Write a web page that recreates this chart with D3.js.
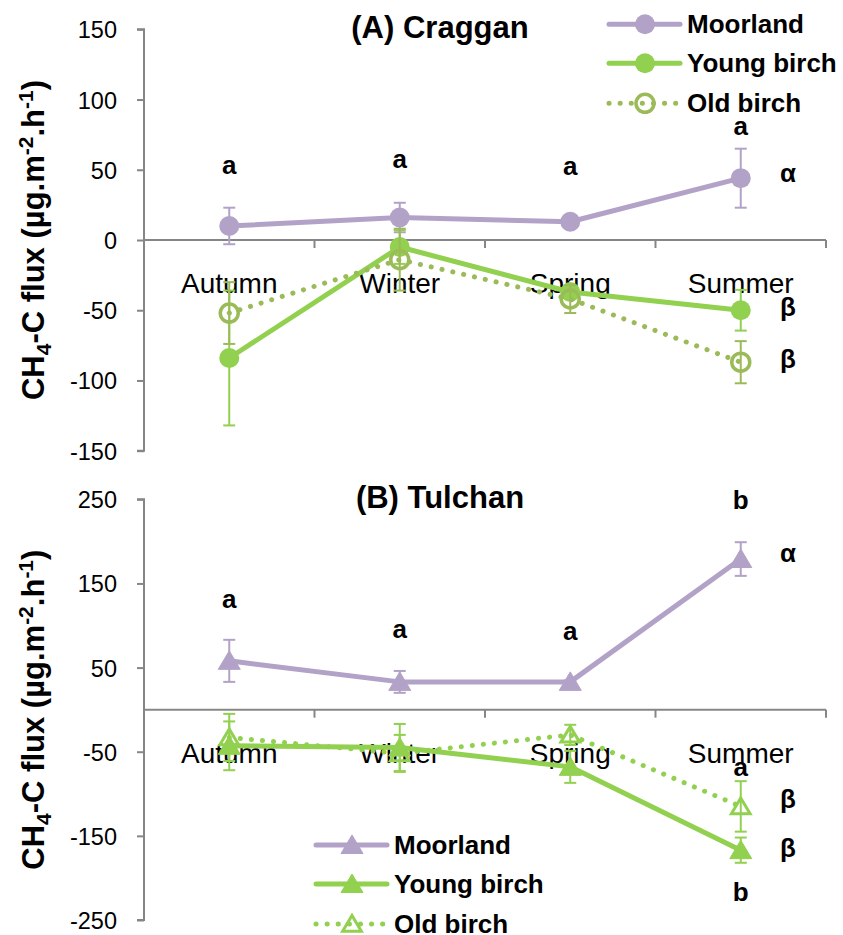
<!DOCTYPE html>
<html>
<head>
<meta charset="utf-8">
<script src="https://cdn.jsdelivr.net/npm/d3@7"></script>
<style>
  html, body { margin: 0; padding: 0; background: #fff; }
  svg { display: block; font-family: "Liberation Sans", Arial, sans-serif; }
</style>
</head>
<body>
<svg id="chart" width="843" height="935"></svg>
<script>
// Seasons on the x axis
const seasons = ["Autumn", "Winter", "Spring", "Summer"];

// (A) Craggan — CH4-C flux means and standard errors
const cragganMoorland      = [10, 16, 13, 44];
const cragganMoorlandErr   = [13, 10.5, 2, 21];
const cragganYoungBirch    = [-84, -5, -37, -50];
const cragganYoungBirchErr = [48, 12, 4, 14.5];
const cragganOldBirch      = [-52, -14, -42, -87];
const cragganOldBirchErr   = [22, 22, 10, 15];

// (B) Tulchan
const tulchanMoorland      = [58, 33, 33, 179];
const tulchanMoorlandErr   = [25, 13, 2, 20];
const tulchanYoungBirch    = [-43, -45, -68, -167];
const tulchanYoungBirchErr = [29, 28, 19, 15];
const tulchanOldBirch      = [-33, -52, -30, -115];
const tulchanOldBirchErr   = [28, 22, 12, 30];

// Axis ticks
const cragganTicks = [150, 100, 50, 0, -50, -100, -150];
const tulchanTicks = [250, 150, 50, -50, -150, -250];

// Significance letters: season, text, anchor value in flux units
const cragganLetters = [["Autumn", "a", 47], ["Winter", "a", 51], ["Spring", "a", 46.5], ["Summer", "a", 74.5]];
const cragganGreek   = [["α", 41], ["β", -54], ["β", -91]];
const tulchanLetters = [["Autumn", "a", 121], ["Winter", "a", 85], ["Spring", "a", 83], ["Summer", "b", 238], ["Summer", "a", -79], ["Summer", "b", -228]];
const tulchanGreek   = [["α", 175], ["β", -117], ["β", -175]];

const seriesNames = ["Moorland", "Young birch", "Old birch"];

const PURPLE = "#B3A2C7", GREEN = "#92D050", OLIVE = "#9BBB59", AXIS = "#868686";

const svg = d3.select("#chart");
const x = d3.scaleBand().domain(seasons).range([144, 826]).padding(0);
const cx = s => x(s) + x.bandwidth() / 2;

function panel(opts) {
  const { y, ticks, title, titleY, marker, series, letters, greek } = opts;
  const g = svg.append("g");

  // y axis (plain hyphen for negatives)
  const yAxis = g.append("g").attr("transform", "translate(144,0)")
    .call(d3.axisLeft(y).tickValues(ticks).tickSize(7).tickPadding(20).tickFormat(d => String(d)));
  yAxis.select(".domain").attr("stroke", AXIS).attr("stroke-width", 2).attr("d", `M-7,${y.range()[1]}H0V${y.range()[0]}H-7`);
  yAxis.selectAll(".tick line").attr("stroke", AXIS).attr("stroke-width", 2);
  yAxis.selectAll(".tick text").attr("fill", "#000").style("font-size", "23.5px").attr("dy", "0.36em");

  // zero line with category boundary ticks
  const y0 = y(0);
  g.append("line").attr("x1", 144).attr("x2", 826).attr("y1", y0).attr("y2", y0)
    .attr("stroke", AXIS).attr("stroke-width", 2);
  const bounds = seasons.map(s => x(s)).concat([x.range()[1]]);
  g.selectAll(".btick").data(bounds).join("line")
    .attr("x1", d => d).attr("x2", d => d).attr("y1", y0).attr("y2", y0 + 8)
    .attr("stroke", AXIS).attr("stroke-width", 2);
  g.selectAll(".cat").data(seasons).join("text")
    .attr("x", d => cx(d)).attr("y", y0 + 53).attr("text-anchor", "middle")
    .style("font-size", "28px").text(d => d);

  // y axis title
  const midY = (y.range()[0] + y.range()[1]) / 2;
  const yl = g.append("text").attr("transform", `translate(44,${midY}) rotate(-90)`)
    .attr("text-anchor", "middle").style("font-size", "31px").style("font-weight", "bold");
  yl.append("tspan").text("CH");
  yl.append("tspan").text("4").style("font-size", "21px").attr("dy", 7);
  yl.append("tspan").text("-C flux (µg.m").attr("dy", -7);
  yl.append("tspan").text("-2").style("font-size", "21px").attr("dy", -11);
  yl.append("tspan").text(".h").attr("dy", 11);
  yl.append("tspan").text("-1").style("font-size", "21px").attr("dy", -11);
  yl.append("tspan").text(")").attr("dy", 11);

  // panel title
  g.append("text").attr("x", 440).attr("y", titleY).attr("text-anchor", "middle")
    .style("font-size", "31px").style("font-weight", "bold").text(title);

  const line = d3.line().x((d, i) => cx(seasons[i])).y(d => y(d));

  series.forEach(s => {
    // connecting line
    g.append("path").datum(s.values).attr("d", line).attr("fill", "none")
      .attr("stroke", s.color).attr("stroke-width", 5)
      .attr("stroke-linecap", "round").attr("stroke-linejoin", "round")
      .attr("stroke-dasharray", s.dotted ? "0.1 11" : null);
    // error bars
    const eb = g.append("g").attr("stroke", s.color).attr("stroke-width", 2);
    s.values.forEach((v, i) => {
      const px = cx(seasons[i]), lo = y(v - s.err[i]), hi = y(v + s.err[i]);
      eb.append("line").attr("x1", px).attr("x2", px).attr("y1", lo).attr("y2", hi);
      eb.append("line").attr("x1", px - 6).attr("x2", px + 6).attr("y1", lo).attr("y2", lo);
      eb.append("line").attr("x1", px - 6).attr("x2", px + 6).attr("y1", hi).attr("y2", hi);
    });
    // markers
    s.values.forEach((v, i) => drawMarker(g, marker, cx(seasons[i]), y(v), s.color, s.open));
  });

  // letters
  g.selectAll(".let").data(letters).join("text")
    .attr("x", d => cx(d[0])).attr("y", d => y(d[2])).attr("text-anchor", "middle")
    .style("font-size", "26px").style("font-weight", "bold").text(d => d[1]);
  g.selectAll(".greek").data(greek).join("text")
    .attr("x", 788).attr("y", d => y(d[1])).attr("text-anchor", "middle")
    .style("font-size", "26px").style("font-weight", "bold").text(d => d[0]);
}

function drawMarker(g, type, px, py, color, open) {
  if (type === "circle") {
    if (open) {
      g.append("circle").attr("cx", px).attr("cy", py).attr("r", 9)
        .attr("fill", "none").attr("stroke", color).attr("stroke-width", 3.5);
    } else {
      g.append("circle").attr("cx", px).attr("cy", py).attr("r", 10).attr("fill", color);
    }
  } else {
    const h = open ? 8.5 : 10;
    const pts = [[px, py - h], [px + h * 1.1, py + h * 0.85], [px - h * 1.1, py + h * 0.85]];
    g.append("path").attr("d", "M" + pts.map(p => p.join(",")).join("L") + "Z")
      .attr("fill", open ? "none" : color).attr("stroke", color)
      .attr("stroke-width", open ? 3 : 1).attr("stroke-linejoin", "miter");
  }
}

function legend(series, marker, x0, rows) {
  const g = svg.append("g");
  series.forEach((s, i) => {
    const ry = rows[i];
    g.append("line").attr("x1", x0).attr("x2", x0 + 71).attr("y1", ry).attr("y2", ry)
      .attr("stroke", s.color).attr("stroke-width", 5).attr("stroke-linecap", "round")
      .attr("stroke-dasharray", s.dotted ? "0.1 11" : null);
    drawMarker(g, marker, x0 + 36, ry, s.color, s.open);
    g.append("text").attr("x", x0 + 78).attr("y", ry + 9)
      .style("font-size", "26px").style("font-weight", "bold").text(seriesNames[i]);
  });
}

const yA = d3.scaleLinear().domain([-150, 150]).range([450.7, 29.3]);
const yB = d3.scaleLinear().domain([-250, 250]).range([920, 499.3]);

const cragganSeries = [
  { values: cragganMoorland, err: cragganMoorlandErr, color: PURPLE },
  { values: cragganYoungBirch, err: cragganYoungBirchErr, color: GREEN },
  { values: cragganOldBirch, err: cragganOldBirchErr, color: OLIVE, dotted: true, open: true }
];
const tulchanSeries = [
  { values: tulchanMoorland, err: tulchanMoorlandErr, color: PURPLE },
  { values: tulchanYoungBirch, err: tulchanYoungBirchErr, color: GREEN },
  { values: tulchanOldBirch, err: tulchanOldBirchErr, color: GREEN, dotted: true, open: true }
];

panel({ y: yA, ticks: cragganTicks, title: "(A) Craggan", titleY: 38, marker: "circle",
        series: cragganSeries, letters: cragganLetters, greek: cragganGreek });
panel({ y: yB, ticks: tulchanTicks, title: "(B) Tulchan", titleY: 508, marker: "triangle",
        series: tulchanSeries, letters: tulchanLetters, greek: tulchanGreek });

legend(cragganSeries, "circle", 609, [24.3, 63.3, 103.3]);
legend(tulchanSeries, "triangle", 316, [845, 884, 924]);
</script>
</body>
</html>
